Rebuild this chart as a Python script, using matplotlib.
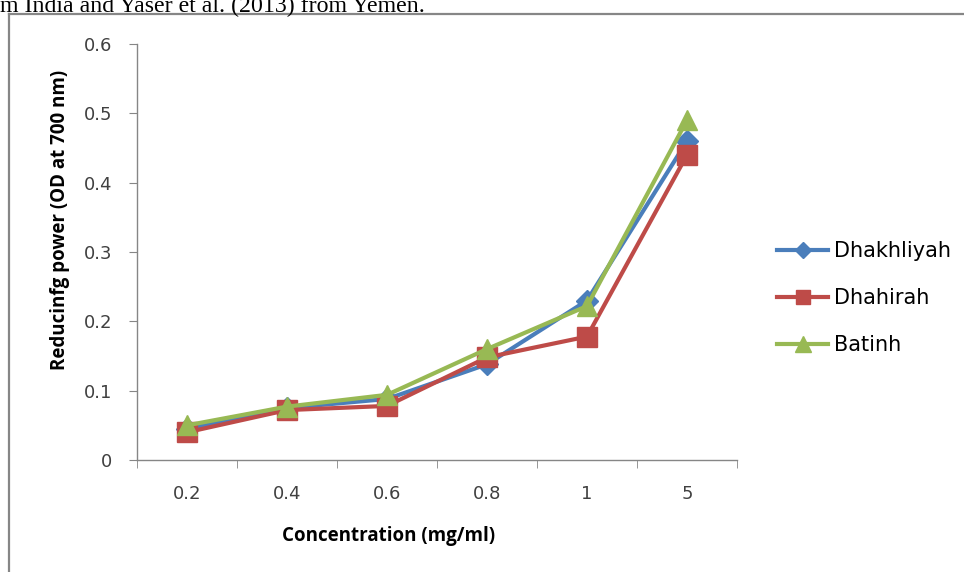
import numpy as np
import matplotlib.pyplot as plt
from matplotlib.lines import Line2D

# chart data
concentrations = ["0.2", "0.4", "0.6", "0.8", "1", "5"]
dhakhliyah = [0.045, 0.075, 0.088, 0.138, 0.230, 0.460]
dhahirah = [0.040, 0.072, 0.078, 0.148, 0.178, 0.440]
batinh = [0.050, 0.077, 0.094, 0.160, 0.222, 0.490]
y_ticks = [0, 0.1, 0.2, 0.3, 0.4, 0.5, 0.6]


def main():
    plt.rcParams['font.family'] = ['DejaVu Sans']
    fig = plt.figure(figsize=(9.64, 5.72), dpi=100)
    fig.patch.set_facecolor('white')

    # caption fragment cut off at the top of the crop
    fig.text(0.0, 1 - 12 / 572, "m India and Yaser et al. (2013) from Yemen.",
             family='Liberation Serif', fontsize=17.2, ha='left',
             va='baseline')

    # frame of the embedded chart (only top and left edges visible)
    grey = '#868686'
    fig.add_artist(Line2D([9 / 964, 1.0], [1 - 14 / 572, 1 - 14 / 572],
                          transform=fig.transFigure, color=grey, lw=1.6))
    fig.add_artist(Line2D([9 / 964, 9 / 964], [0.0, 1 - 14 / 572],
                          transform=fig.transFigure, color=grey, lw=1.6))

    ax = fig.add_axes([137 / 964, 1 - 460 / 572, 600 / 964, 416 / 572])
    x = np.arange(len(concentrations))

    ax.plot(x, dhakhliyah, color='#4A7EBB', lw=3, marker='D', ms=11,
            label='Dhakhliyah')
    ax.plot(x, dhahirah, color='#BE4B48', lw=3, marker='s', ms=14,
            label='Dhahirah')
    ax.plot(x, batinh, color='#98B954', lw=3, marker='^', ms=15,
            label='Batinh')

    ax.set_xlim(-0.5, len(concentrations) - 0.5)
    ax.set_ylim(0, 0.6)
    ax.set_yticks(y_ticks)
    ax.set_yticklabels([f"{v:g}" for v in y_ticks], fontsize=13,
                       color='#404040')
    ax.set_xticks(x)
    ax.set_xticklabels(concentrations, fontsize=13, color='#404040')
    # category boundaries carry the tick marks
    ax.set_xticks(np.arange(-0.5, len(concentrations)), minor=True)
    ax.tick_params(axis='x', which='major', length=0, pad=18)
    ax.tick_params(axis='x', which='minor', length=6, color=grey,
                   direction='out')
    ax.tick_params(axis='y', length=6, color=grey, direction='out', pad=12)

    for side in ['top', 'right']:
        ax.spines[side].set_visible(False)
    for side in ['left', 'bottom']:
        ax.spines[side].set_color(grey)
        ax.spines[side].set_linewidth(1.0)

    ax.set_xlabel("Concentration (mg/ml)", family='Open Sans', fontsize=13.5,
                  fontweight='bold')
    ax.set_ylabel("Reducinfg power (OD at 700 nm)", family='Open Sans',
                  fontsize=13.5, fontweight='bold')
    ax.xaxis.set_label_coords(0.42, -0.158)
    ax.yaxis.set_label_coords(-0.112, 0.577)

    ax.legend(loc='center left', bbox_to_anchor=(1.036, 0.389),
              frameon=False, fontsize=15, handlelength=2.45,
              handletextpad=0.25, labelspacing=1.3, markerscale=0.75)

    fig.savefig("out.png", dpi=100, facecolor='white')


if __name__ == '__main__':
    main()
